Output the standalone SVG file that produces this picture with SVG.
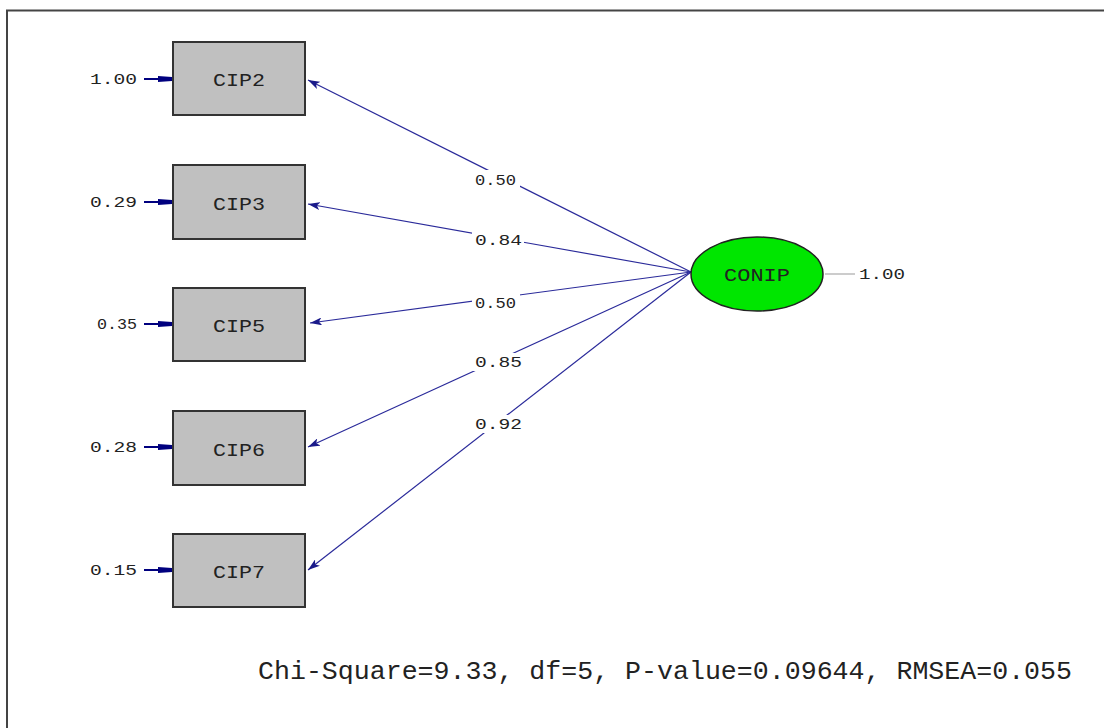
<svg xmlns="http://www.w3.org/2000/svg" width="1104" height="728" viewBox="0 0 1104 728">
<defs>
<style>
.box{fill:#c0c0c0;stroke:#333;stroke-width:2}
.lbl{font-family:"Liberation Mono","DejaVu Sans Mono",monospace;font-size:19px;fill:#222;text-anchor:middle}
.num{font-family:"Liberation Mono","DejaVu Sans Mono",monospace;font-size:15px;fill:#222}
.path{stroke:#2a2a9a;stroke-width:1.2;fill:none}
.err{stroke:#00007f;stroke-width:2;fill:none}
.bg{fill:#fff}
</style>
<marker id="ah" viewBox="0 0 12 8" refX="12" refY="4" markerWidth="12" markerHeight="8" markerUnits="userSpaceOnUse" orient="auto">
<path d="M0,0 L12,4 L0,8 L3,4 Z" fill="#1a1a8a"/>
</marker>
<marker id="eh" viewBox="0 0 14 8" refX="14" refY="4" markerWidth="14" markerHeight="8" markerUnits="userSpaceOnUse" orient="auto">
<path d="M0,1 L14,2 L14,6 L0,7 Z" fill="#00007f"/>
</marker>
</defs>
<rect x="0" y="0" width="1104" height="728" fill="#fff"/>
<path d="M7,728 L7,10.5 L1104,10.5" fill="none" stroke="#444" stroke-width="2"/>
<g id="connectors">
<line class="path" x1="691" y1="272" x2="308" y2="80" marker-end="url(#ah)"/>
<line class="path" x1="691" y1="272" x2="308" y2="204" marker-end="url(#ah)"/>
<line class="path" x1="691" y1="272" x2="310" y2="323" marker-end="url(#ah)"/>
<line class="path" x1="691" y1="272" x2="308" y2="447" marker-end="url(#ah)"/>
<line class="path" x1="691" y1="272" x2="308" y2="570" marker-end="url(#ah)"/>
<rect class="bg" x="472" y="170" width="48" height="18"/>
<rect class="bg" x="472" y="231" width="52" height="18"/>
<rect class="bg" x="472" y="294" width="48" height="18"/>
<rect class="bg" x="472" y="353" width="52" height="18"/>
<rect class="bg" x="472" y="415" width="52" height="18"/>
<text class="num" x="475" y="185" textLength="41" lengthAdjust="spacingAndGlyphs">0.50</text>
<text class="num" x="475" y="245" textLength="47" lengthAdjust="spacingAndGlyphs">0.84</text>
<text class="num" x="475" y="308" textLength="41" lengthAdjust="spacingAndGlyphs">0.50</text>
<text class="num" x="475" y="367" textLength="47" lengthAdjust="spacingAndGlyphs">0.85</text>
<text class="num" x="475" y="429" textLength="47" lengthAdjust="spacingAndGlyphs">0.92</text>
<line class="err" x1="144" y1="79" x2="172" y2="79" marker-end="url(#eh)"/>
<line class="err" x1="144" y1="202" x2="172" y2="202" marker-end="url(#eh)"/>
<line class="err" x1="144" y1="324" x2="172" y2="324" marker-end="url(#eh)"/>
<line class="err" x1="144" y1="447" x2="172" y2="447" marker-end="url(#eh)"/>
<line class="err" x1="144" y1="570" x2="172" y2="570" marker-end="url(#eh)"/>
<text class="num" x="90" y="84" textLength="47" lengthAdjust="spacingAndGlyphs">1.00</text>
<text class="num" x="90" y="207" textLength="47" lengthAdjust="spacingAndGlyphs">0.29</text>
<text class="num" x="97" y="329" textLength="40" lengthAdjust="spacingAndGlyphs">0.35</text>
<text class="num" x="90" y="452" textLength="47" lengthAdjust="spacingAndGlyphs">0.28</text>
<text class="num" x="90" y="575" textLength="47" lengthAdjust="spacingAndGlyphs">0.15</text>
<line x1="825" y1="274" x2="855" y2="274" stroke="#aaa" stroke-width="1.2"/>
<text class="num" x="859" y="279" textLength="46" lengthAdjust="spacingAndGlyphs">1.00</text>
</g>
<g id="CIP2"><rect class="box" x="173" y="42" width="132" height="73"/><text class="lbl" x="239" y="86" textLength="52" lengthAdjust="spacingAndGlyphs">CIP2</text></g>
<g id="CIP3"><rect class="box" x="173" y="165" width="132" height="74"/><text class="lbl" x="239" y="210" textLength="52" lengthAdjust="spacingAndGlyphs">CIP3</text></g>
<g id="CIP5"><rect class="box" x="173" y="288" width="132" height="73"/><text class="lbl" x="239" y="332" textLength="52" lengthAdjust="spacingAndGlyphs">CIP5</text></g>
<g id="CIP6"><rect class="box" x="173" y="411" width="132" height="74"/><text class="lbl" x="239" y="456" textLength="52" lengthAdjust="spacingAndGlyphs">CIP6</text></g>
<g id="CIP7"><rect class="box" x="173" y="534" width="132" height="73"/><text class="lbl" x="239" y="578" textLength="52" lengthAdjust="spacingAndGlyphs">CIP7</text></g>
<g id="CONIP"><ellipse cx="757" cy="274" rx="66" ry="37" fill="#00e600" stroke="#222" stroke-width="1.5"/><text class="lbl" x="757" y="281" textLength="66" lengthAdjust="spacingAndGlyphs">CONIP</text></g>
<text x="258" y="679" font-family="'Liberation Mono','DejaVu Sans Mono',monospace" font-size="25" fill="#222" textLength="814" lengthAdjust="spacingAndGlyphs">Chi-Square=9.33, df=5, P-value=0.09644, RMSEA=0.055</text>
</svg>
